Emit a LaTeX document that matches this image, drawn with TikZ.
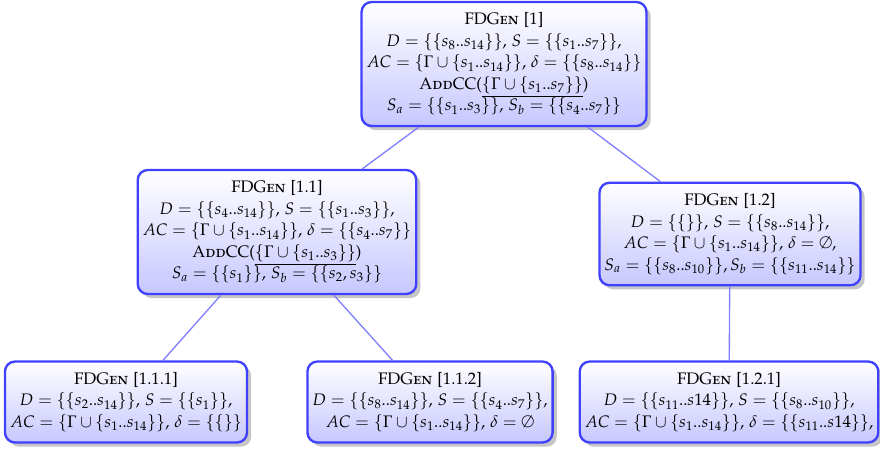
\documentclass[tikz,border=0pt]{standalone}
\usepackage[T1]{fontenc}
\usepackage[sc]{mathpazo}
\usetikzlibrary{shadows}
\tikzset{
    gennode/.style={
        draw=blue!75,
        line width=1.4pt,
        rounded corners=6pt,
        top color=white,
        bottom color=blue!22,
        drop shadow={opacity=0.45,shadow xshift=2.5pt,shadow yshift=-2.5pt},
        align=center,
        inner xsep=3pt,
        inner ysep=6.5pt,
        font=\fontsize{10}{12.9}\selectfont
    },
    genedge/.style={
        draw=blue!50,
        line width=0.8pt
    }
}

\begin{document}
\begin{tikzpicture}[x=0.6pt,y=-0.6pt]
    \useasboundingbox (0,0) rectangle (880,452);
    \node[gennode] (root) at (504,64)
        {\textsc{FDGen} [1]\\
         $D=\{\{s_8..s_{14}\}\}$, $S=\{\{s_1..s_7\}\}$,\\
         $AC=\{\Gamma\cup\{s_1..s_{14}\}\}$, $\delta=\{\{s_8..s_{14}\}\}$\\
         \textsc{AddCC}($\underline{\{\Gamma\cup\{s_1..s_7\}\}}$)\\
         $S_a=\{\{s_1..s_3\}\}$, $S_b=\{\{s_4..s_7\}\}$};
    \node[gennode] (n11) at (277,232)
        {\textsc{FDGen} [1.1]\\
         $D=\{\{s_4..s_{14}\}\}$, $S=\{\{s_1..s_3\}\}$,\\
         $AC=\{\Gamma\cup\{s_1..s_{14}\}\}$, $\delta=\{\{s_4..s_7\}\}$\\
         \textsc{AddCC}($\underline{\{\Gamma\cup\{s_1..s_3\}\}}$)\\
         $S_a=\{\{s_1\}\}$, $S_b=\{\{s_2,s_3\}\}$};
    \node[gennode] (n12) at (730,234)
        {\textsc{FDGen} [1.2]\\
         $D=\{\{\}\}$, $S=\{\{s_8..s_{14}\}\}$,\\
         $AC=\{\Gamma\cup\{s_1..s_{14}\}\}$, $\delta=\emptyset$,\\
         $S_a=\{\{s_8..s_{10}\}\},S_b=\{\{s_{11}..s_{14}\}\}$};
    \node[gennode] (n111) at (126,402)
        {\textsc{FDGen} [1.1.1]\\
         $D=\{\{s_2..s_{14}\}\}$, $S=\{\{s_1\}\}$,\\
         $AC=\{\Gamma\cup\{s_1..s_{14}\}\}$, $\delta=\{\{\}\}$};
    \node[gennode] (n112) at (430,402)
        {\textsc{FDGen} [1.1.2]\\
         $D=\{\{s_8..s_{14}\}\}$, $S=\{\{s_4..s_7\}\}$,\\
         $AC=\{\Gamma\cup\{s_1..s_{14}\}\}$, $\delta=\emptyset$};
    \node[gennode] (n121) at (729,402)
        {\textsc{FDGen} [1.2.1]\\
         $D=\{\{s_{11}..s14\}\}$, $S=\{\{s_8..s_{10}\}\}$,\\
         $AC=\{\Gamma\cup\{s_1..s_{14}\}\}$, $\delta=\{\{s_{11}..s14\}\}$,};

    \draw[genedge] (root) -- (n11);
    \draw[genedge] (root) -- (n12);
    \draw[genedge] (n11) -- (n111);
    \draw[genedge] (n11) -- (n112);
    \draw[genedge] (n12) -- (n121);
\end{tikzpicture}
\end{document}
